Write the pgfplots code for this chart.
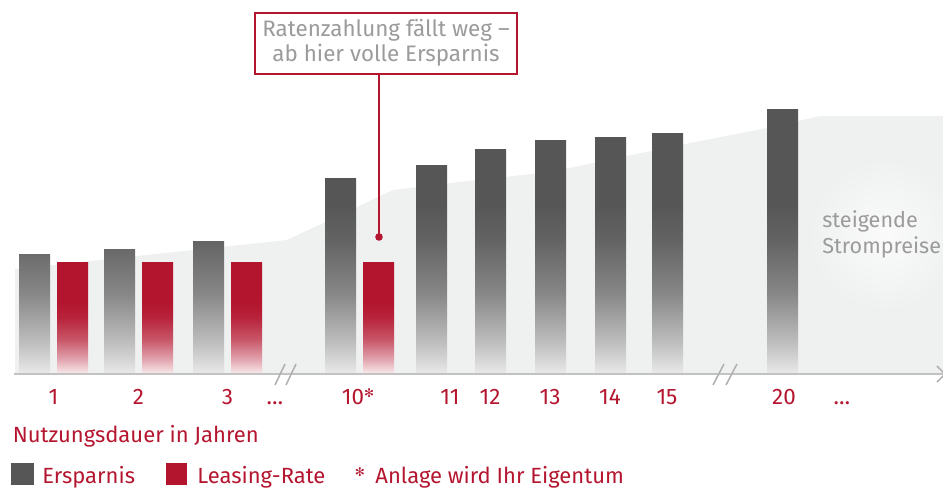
\documentclass[border=0pt]{standalone}
\usepackage{fontspec}
\setmainfont{Fira Sans}
\newfontfamily\symfont{DejaVu Sans}
\usepackage{pgfplots}
\pgfplotsset{compat=1.18}

\definecolor{gdark}{HTML}{555655}
\definecolor{bggray}{HTML}{EFF0F0}
\definecolor{axisgray}{HTML}{C2C2C2}
\definecolor{txtgray}{HTML}{9B9B9B}
\definecolor{labred}{HTML}{B5162F}
\definecolor{rdark}{HTML}{B3152E}

% bars fade out towards the baseline
\pgfdeclareverticalshading{grayfade}{100bp}{color(0bp)=(black!9!white); color(25bp)=(black!9!white);
  color(31bp)=(black!26!white); color(40bp)=(black!47!white); color(50bp)=(black!61!white);
  color(57bp)=(gdark); color(100bp)=(gdark)}
\pgfdeclareverticalshading{redfade}{100bp}{color(0bp)=(rdark!10!white); color(25bp)=(rdark!10!white);
  color(31bp)=(rdark!38!white); color(40bp)=(rdark!72!white); color(50bp)=(rdark!94!white);
  color(57bp)=(rdark); color(100bp)=(rdark)}

\begin{document}
\begin{tikzpicture}
\begin{axis}[
  at={(0,0)}, anchor=south west,
  x=0.5pt, y=0.5pt,
  xmin=0, xmax=943, ymin=0, ymax=373,
  clip=false,
  axis line style={draw=none},
  ytick=\empty,
  xtick={53.5,138.5,227.5,275,358,450,490,550,610,667,784,842},
  xticklabels={1,2,3,\ldots,10\raisebox{0.55ex}{\symfont\fontsize{6}{6}\selectfont ✻},11,12,13,14,15,20,\ldots},
  xtick style={draw=none},
  xticklabel style={anchor=base, yshift=-15.5pt, text=labred, font=\fontsize{11.2}{13}\selectfont},
  mybar/.style={ybar, bar width=31, bar shift=0pt, draw=none, shade},
]
% rising electricity prices (background area)
\addplot[fill=bggray, draw=none] coordinates {
  (15,104) (287,133) (393,183) (450,190) (550,201) (680,228) (767,245) (820,257) (943,257)
} \closedcycle;
\shade[inner color=white!70!bggray, outer color=bggray, draw=none] (axis cs:885,138) circle[radius=38pt];

% Ersparnis
\addplot[mybar, shading=grayfade] coordinates {
  (34.5,119) (119.5,124) (208.5,132) (340.5,195) (431.5,208) (490.5,224)
  (550.5,233) (610.5,236) (667.5,240) (782.5,264)
};
% Leasing-Rate
\addplot[mybar, shading=redfade] coordinates {
  (72.5,111) (157.5,111) (246.5,111) (378.5,111)
};

% axis line, breaks and arrow
\draw[axisgray, line width=1pt] (axis cs:14,-1.3) -- (axis cs:943,-1.3);
\draw[axisgray!90!black, line width=0.75pt] (axis cs:275,-12) -- (axis cs:285,9) (axis cs:286,-12) -- (axis cs:296,9)
  (axis cs:713,-12) -- (axis cs:724,9) (axis cs:726,-12) -- (axis cs:737,9);
\draw[axisgray!90!black, line width=0.75pt] (axis cs:937,7) -- (axis cs:945,-1.3) -- (axis cs:937,-9);

% annotation
\draw[labred, line width=1pt] (axis cs:379,299) -- (axis cs:379,136);
\fill[labred] (axis cs:379,136) circle[radius=1.9pt];
\node[draw=labred, line width=1pt, fill=white, minimum width=131pt, minimum height=30.5pt, inner sep=0pt,
  align=center, text=txtgray, font=\fontsize{11.2}{12.5}\selectfont] at (axis cs:386,330)
  {Ratenzahlung fällt weg –\\ab hier volle Ersparnis};

\node[anchor=base west, text=txtgray, font=\fontsize{10.8}{13}\selectfont, inner sep=0pt]
  at (axis cs:822,146) {steigende};
\node[anchor=base west, text=txtgray, font=\fontsize{10.8}{13}\selectfont, inner sep=0pt]
  at (axis cs:822,120) {Strompreise};

% x label and legend
\node[anchor=base west, text=labred, font=\fontsize{11}{13}\selectfont, inner sep=0pt]
  at (axis cs:12.5,-69) {Nutzungsdauer in Jahren};
\fill[gdark] (axis cs:11,-112) rectangle (axis cs:34,-90);
\node[anchor=base west, text=labred, font=\fontsize{11}{13}\selectfont, inner sep=0pt]
  at (axis cs:42,-110) {Ersparnis};
\fill[rdark] (axis cs:166,-112) rectangle (axis cs:187,-90);
\node[anchor=base west, text=labred, font=\fontsize{11}{13}\selectfont, inner sep=0pt]
  at (axis cs:197,-110) {Leasing-Rate};
\node[text=labred, font=\symfont\fontsize{6}{6}\selectfont, inner sep=0pt]
  at (axis cs:360,-99) {✻};
\node[anchor=base west, text=labred, font=\fontsize{11}{13}\selectfont, inner sep=0pt]
  at (axis cs:375,-110) {Anlage wird Ihr Eigentum};
\end{axis}
\pgfresetboundingbox
\path[use as bounding box] (0,-58pt) rectangle (471.5pt,186.5pt);
\end{tikzpicture}
\end{document}
